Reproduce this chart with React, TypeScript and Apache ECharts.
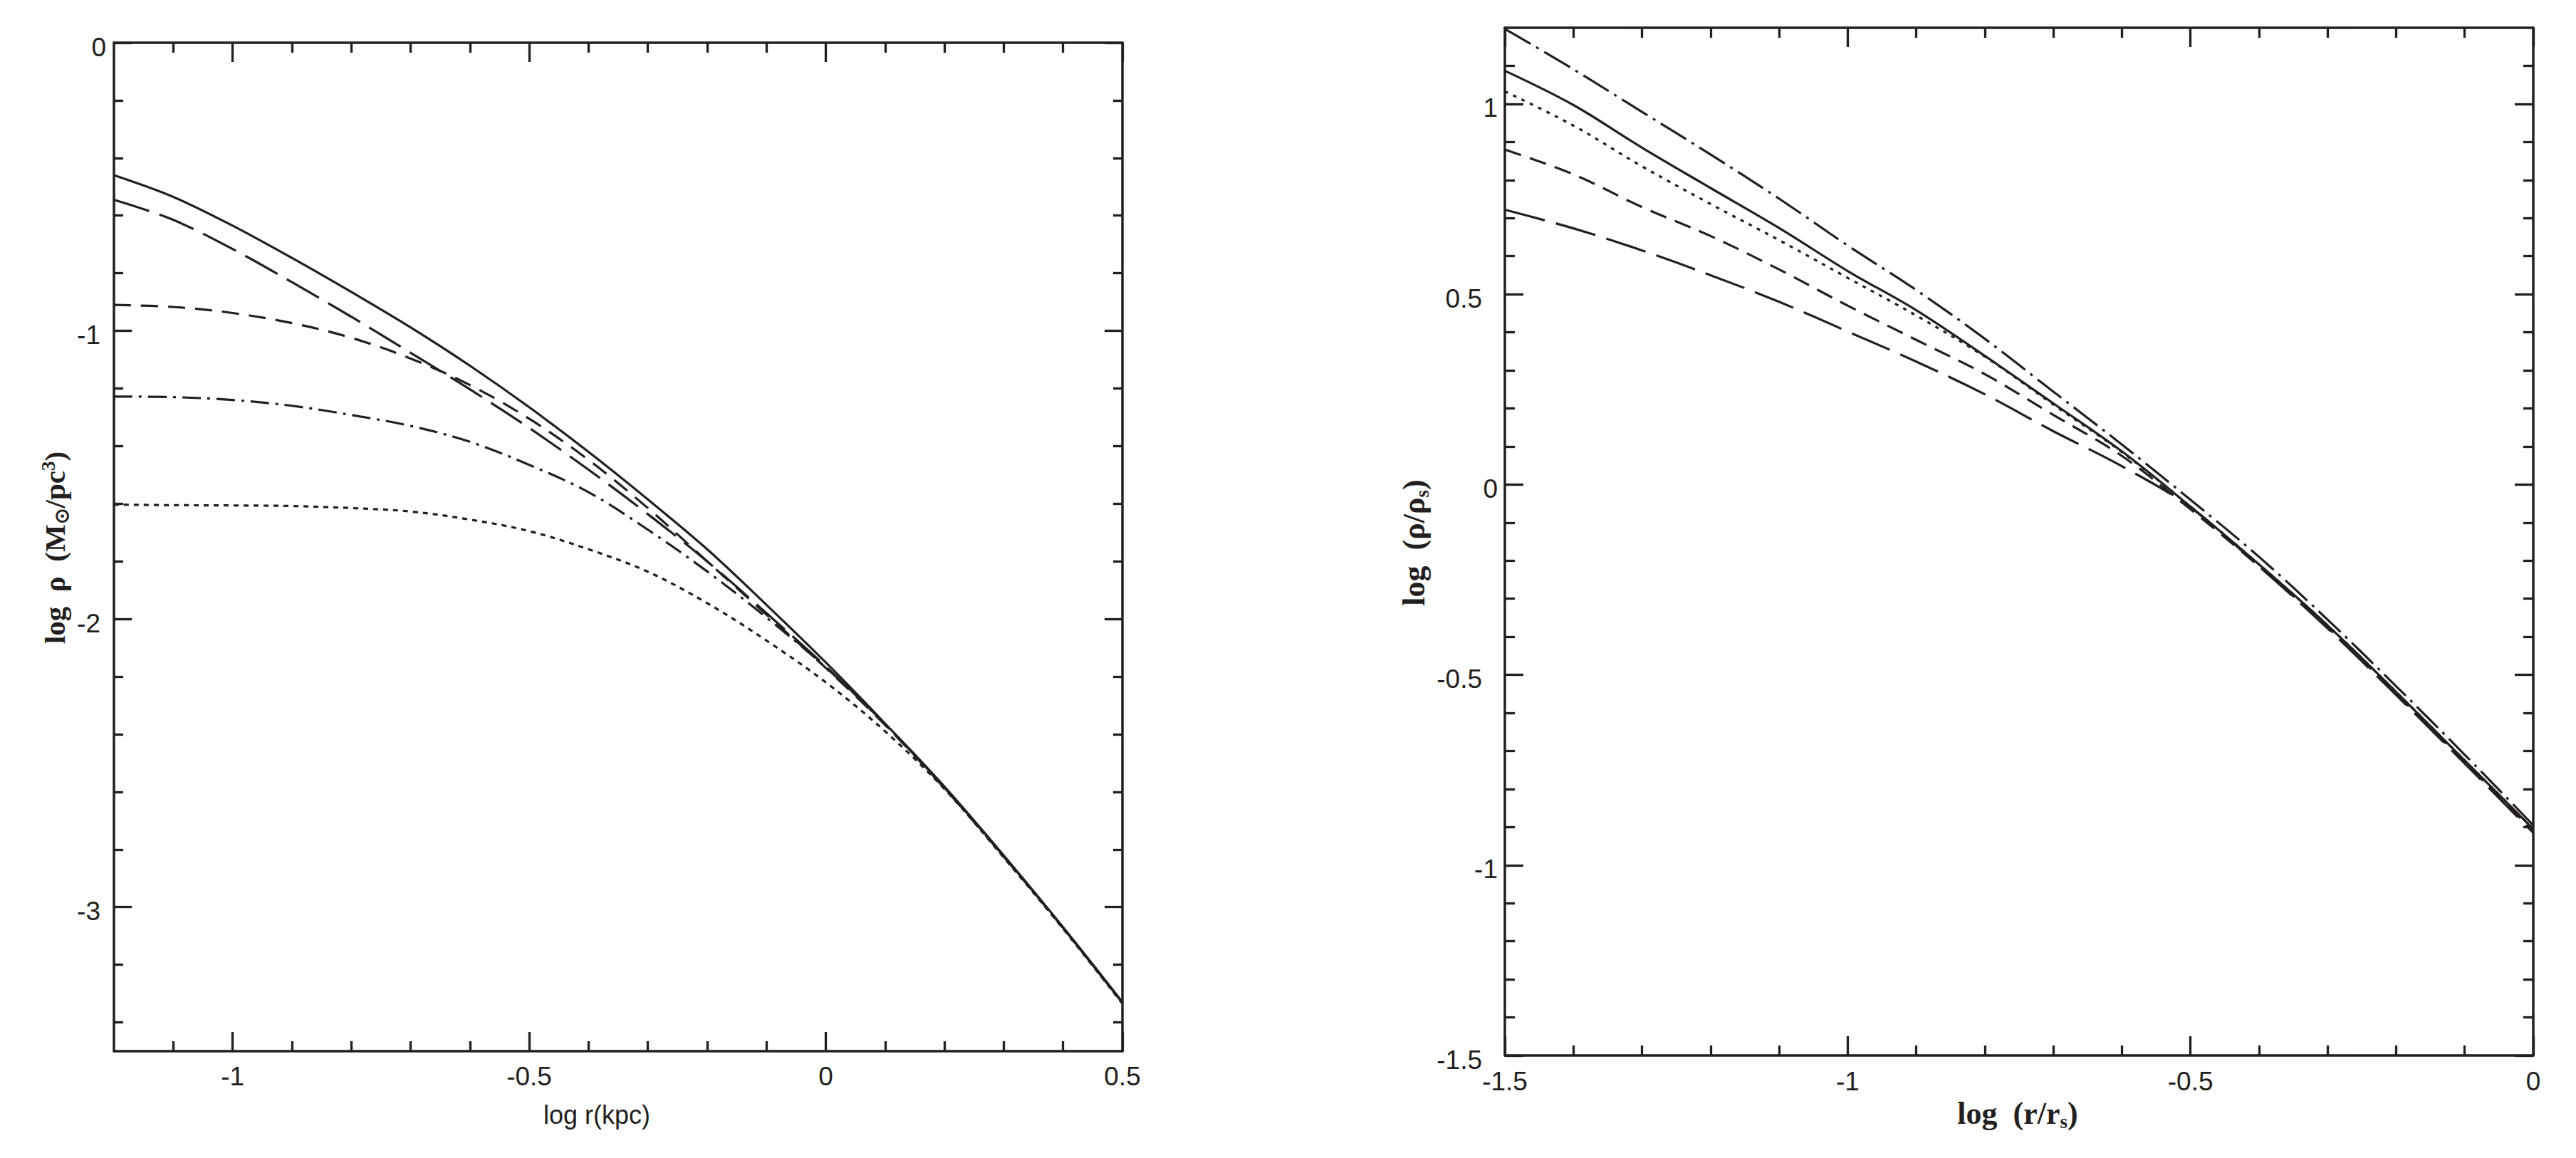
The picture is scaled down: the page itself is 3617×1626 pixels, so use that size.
import React, { useEffect, useRef } from "react";
import * as echarts from "echarts";

// ---------- data ----------
const LEFT_X = [-1.2, -1.1, -1.0, -0.9, -0.8, -0.7, -0.6, -0.5, -0.4, -0.3, -0.2, -0.1, 0, 0.1, 0.2, 0.3, 0.4, 0.5];
const LEFT_SOLID = [-0.46, -0.535, -0.635, -0.747, -0.865, -0.988, -1.121, -1.265, -1.42, -1.585, -1.758, -1.951, -2.151, -2.363, -2.582, -2.821, -3.07, -3.33];
const LEFT_LONG_DASH = [-0.545, -0.615, -0.716, -0.831, -0.951, -1.076, -1.203, -1.337, -1.482, -1.636, -1.8, -1.98, -2.165, -2.365, -2.585, -2.823, -3.072, -3.332];
const LEFT_SHORT_DASH = [-0.91, -0.917, -0.938, -0.973, -1.024, -1.096, -1.188, -1.305, -1.448, -1.615, -1.8, -1.985, -2.17, -2.368, -2.587, -2.825, -3.072, -3.332];
const LEFT_DASH_DOT = [-1.228, -1.23, -1.24, -1.26, -1.292, -1.33, -1.385, -1.465, -1.56, -1.69, -1.835, -1.995, -2.168, -2.366, -2.585, -2.823, -3.072, -3.332];
const LEFT_DOTTED = [-1.603, -1.605, -1.606, -1.608, -1.615, -1.627, -1.655, -1.695, -1.758, -1.836, -1.945, -2.075, -2.22, -2.39, -2.59, -2.828, -3.075, -3.335];

const RIGHT_X = [-1.5, -1.4, -1.3, -1.2, -1.1, -1.0, -0.9, -0.8, -0.7, -0.6, -0.5, -0.4, -0.3, -0.2, -0.1, 0];
const RIGHT_DASH_DOT = [1.197, 1.091, 0.979, 0.867, 0.751, 0.628, 0.511, 0.383, 0.244, 0.105, -0.04, -0.19, -0.355, -0.53, -0.71, -0.895];
const RIGHT_SOLID = [1.087, 0.997, 0.885, 0.779, 0.674, 0.561, 0.458, 0.338, 0.213, 0.087, -0.058, -0.21, -0.37, -0.545, -0.725, -0.905];
const RIGHT_DOTTED = [1.033, 0.943, 0.836, 0.737, 0.642, 0.543, 0.444, 0.336, 0.21, 0.085, -0.058, -0.21, -0.37, -0.545, -0.725, -0.905];
const RIGHT_SHORT_DASH = [0.88, 0.815, 0.729, 0.653, 0.565, 0.47, 0.38, 0.29, 0.183, 0.075, -0.065, -0.215, -0.375, -0.55, -0.73, -0.91];
const RIGHT_LONG_DASH = [0.722, 0.673, 0.615, 0.55, 0.48, 0.402, 0.323, 0.237, 0.14, 0.048, -0.06, -0.215, -0.378, -0.553, -0.733, -0.915];

// tick labels
const LEFT_X_LABELS = [-1, -0.5, 0, 0.5];
const LEFT_Y_LABELS = [0, -1, -2, -3];
const RIGHT_X_LABELS = [-1.5, -1, -0.5, 0];
const RIGHT_Y_LABELS = [-1.5, -1, -0.5, 0, 0.5, 1];

// axis ranges
const LEFT_X_RANGE = [-1.2, 0.5];
const LEFT_Y_RANGE = [-3.5, 0];
const RIGHT_X_RANGE = [-1.5, 0];
const RIGHT_Y_RANGE = [-1.5, 1.2];

// ---------- helpers ----------
const INK = "#231f20";
const SANS = "'Liberation Sans', Arial, Helvetica, sans-serif";
const SERIF = "'Liberation Serif', 'Times New Roman', serif";

function stepTicks(min: number, max: number, step: number, exclude: number[]): number[] {
  const out: number[] = [];
  const n0 = Math.ceil(min / step - 1e-9);
  const n1 = Math.floor(max / step + 1e-9);
  for (let i = n0; i <= n1; i++) {
    const v = Math.round(i * step * 1000) / 1000;
    if (v <= min + 1e-9 || v >= max - 1e-9) continue;
    if (exclude.some((e) => Math.abs(e - v) < 1e-6)) continue;
    out.push(v);
  }
  return out;
}
function majorTicks(min: number, max: number, step: number): number[] {
  const out: number[] = [];
  const n0 = Math.ceil(min / step - 1e-9);
  const n1 = Math.floor(max / step + 1e-9);
  for (let i = n0; i <= n1; i++) out.push(Math.round(i * step * 1000) / 1000);
  return out;
}

function axis(
  grid: number,
  position: string,
  range: number[],
  ticks: number[],
  tickLen: number,
  showLine: boolean,
  label?: any
) {
  return {
    type: "value",
    gridIndex: grid,
    position,
    min: range[0],
    max: range[1],
    axisLine: { show: showLine, onZero: false, lineStyle: { color: INK, width: 3.5 } },
    axisTick: {
      show: true,
      inside: true,
      length: tickLen,
      customValues: ticks,
      lineStyle: { color: INK, width: 3.3 },
    },
    axisLabel: label ? { show: true, ...label } : { show: false },
    splitLine: { show: false },
    minorTick: { show: false },
    minorSplitLine: { show: false },
    axisPointer: { show: false },
  };
}

const labelBase = { color: INK, fontFamily: SANS, fontSize: 37 };

const LX_MAJ = majorTicks(LEFT_X_RANGE[0], LEFT_X_RANGE[1], 0.5);
const LX_MIN = stepTicks(LEFT_X_RANGE[0], LEFT_X_RANGE[1], 0.1, LX_MAJ);
const LY_MAJ = majorTicks(LEFT_Y_RANGE[0], LEFT_Y_RANGE[1], 1);
const LY_MIN = stepTicks(LEFT_Y_RANGE[0], LEFT_Y_RANGE[1], 0.2, LY_MAJ);
const RX_MAJ = majorTicks(RIGHT_X_RANGE[0], RIGHT_X_RANGE[1], 0.5);
const RX_MIN = stepTicks(RIGHT_X_RANGE[0], RIGHT_X_RANGE[1], 0.1, RX_MAJ);
const RY_MAJ = majorTicks(RIGHT_Y_RANGE[0], RIGHT_Y_RANGE[1], 0.5);
const RY_MIN = stepTicks(RIGHT_Y_RANGE[0], RIGHT_Y_RANGE[1], 0.1, RY_MAJ);

const MAJ = 27;
const MIN = 14;

const xAxes = [
  axis(0, "bottom", LEFT_X_RANGE, LX_MAJ, MAJ, true, {
    ...labelBase,
    customValues: LEFT_X_LABELS,
    margin: 17,
    formatter: (v: number) => String(v),
  }),
  axis(0, "bottom", LEFT_X_RANGE, LX_MIN, MIN, false),
  axis(0, "top", LEFT_X_RANGE, LX_MAJ, MAJ, true),
  axis(0, "top", LEFT_X_RANGE, LX_MIN, MIN, false),
  axis(1, "bottom", RIGHT_X_RANGE, RX_MAJ, MAJ, true, {
    ...labelBase,
    customValues: RIGHT_X_LABELS,
    margin: 18,
    formatter: (v: number) => String(v),
  }),
  axis(1, "bottom", RIGHT_X_RANGE, RX_MIN, MIN, false),
  axis(1, "top", RIGHT_X_RANGE, RX_MAJ, MAJ, true),
  axis(1, "top", RIGHT_X_RANGE, RX_MIN, MIN, false),
];

const yAxes = [
  axis(0, "left", LEFT_Y_RANGE, LY_MAJ, 25, true, {
    ...labelBase,
    customValues: LEFT_Y_LABELS,
    margin: 11,
    padding: [12, 0, 0, 0],
    formatter: (v: number) => (v === 0 ? `{i|${v}}` : `{n|${v}}`),
    rich: {
      i: { ...labelBase },
      n: { ...labelBase, padding: [0, 8, 0, 0] },
    },
  }),
  axis(0, "left", LEFT_Y_RANGE, LY_MIN, 13, false),
  axis(0, "right", LEFT_Y_RANGE, LY_MAJ, 25, true),
  axis(0, "right", LEFT_Y_RANGE, LY_MIN, 13, false),
  axis(1, "left", RIGHT_Y_RANGE, RY_MAJ, 26, true, {
    ...labelBase,
    customValues: RIGHT_Y_LABELS,
    margin: 10,
    padding: [12, 0, 0, 0],
    formatter: (v: number) => (Number.isInteger(v) ? `{i|${v}}` : `{d|${v}}`),
    rich: {
      i: { ...labelBase },
      d: { ...labelBase, padding: [0, 22, 0, 0] },
    },
  }),
  axis(1, "left", RIGHT_Y_RANGE, RY_MIN, 14, false),
  axis(1, "right", RIGHT_Y_RANGE, RY_MAJ, 26, true),
  axis(1, "right", RIGHT_Y_RANGE, RY_MIN, 14, false),
];

function pairs(xs: number[], ys: number[]) {
  return xs.map((x, i) => [x, ys[i]]);
}

function line(name: string, xIdx: number, yIdx: number, xs: number[], ys: number[], type: any) {
  return {
    name,
    type: "line",
    xAxisIndex: xIdx,
    yAxisIndex: yIdx,
    data: pairs(xs, ys),
    showSymbol: false,
    symbol: "none",
    smooth: 0.35,
    clip: true,
    lineStyle: { color: INK, width: 3.2, type, cap: "butt" },
    z: 3,
  };
}

const series = [
  line("left-solid", 0, 0, LEFT_X, LEFT_SOLID, "solid"),
  line("left-long-dash", 0, 0, LEFT_X, LEFT_LONG_DASH, [52, 15]),
  line("left-short-dash", 0, 0, LEFT_X, LEFT_SHORT_DASH, [24, 14]),
  line("left-dash-dot", 0, 0, LEFT_X, LEFT_DASH_DOT, [26, 9, 4, 9]),
  line("left-dotted", 0, 0, LEFT_X, LEFT_DOTTED, [7, 7]),
  line("right-dash-dot", 4, 4, RIGHT_X, RIGHT_DASH_DOT, [42, 9, 4, 9]),
  line("right-solid", 4, 4, RIGHT_X, RIGHT_SOLID, "solid"),
  line("right-dotted", 4, 4, RIGHT_X, RIGHT_DOTTED, [5, 8]),
  line("right-short-dash", 4, 4, RIGHT_X, RIGHT_SHORT_DASH, [24, 13]),
  line("right-long-dash", 4, 4, RIGHT_X, RIGHT_LONG_DASH, [58, 16]),
];

const titleBold = { fontFamily: SERIF, fontWeight: "bold", fill: INK, color: INK };

const graphic = [
  {
    type: "text",
    x: 838,
    y: 1565,
    style: {
      text: "log r(kpc)",
      font: `36px ${SANS}`,
      fill: INK,
      align: "center",
      verticalAlign: "middle",
      textAlign: "center",
      textVerticalAlign: "middle",
    },
  },
  {
    type: "text",
    x: 77,
    y: 769,
    rotation: Math.PI / 2,
    style: {
      text: "{a|log  ρ  (M}{b|⊙}{a|/pc}{c|3}{a|)}",
      align: "center",
      verticalAlign: "middle",
      textAlign: "center",
      textVerticalAlign: "middle",
      rich: {
        a: { ...titleBold, fontSize: 41, lineHeight: 46, verticalAlign: "middle" },
        b: { ...titleBold, fontSize: 27, lineHeight: 46, verticalAlign: "bottom" },
        c: { ...titleBold, fontSize: 27, lineHeight: 46, verticalAlign: "top" },
      },
    },
  },
  {
    type: "text",
    x: 1985,
    y: 762,
    rotation: Math.PI / 2,
    style: {
      text: "{a|log  (ρ/ρ}{b|s}{a|)}",
      align: "center",
      verticalAlign: "middle",
      textAlign: "center",
      textVerticalAlign: "middle",
      rich: {
        a: { ...titleBold, fontSize: 44, lineHeight: 50, verticalAlign: "middle" },
        b: { ...titleBold, fontSize: 27, lineHeight: 50, verticalAlign: "bottom" },
      },
    },
  },
  {
    type: "text",
    x: 2833,
    y: 1563,
    style: {
      text: "{a|log  (r/r}{b|s}{a|)}",
      align: "center",
      verticalAlign: "middle",
      textAlign: "center",
      textVerticalAlign: "middle",
      rich: {
        a: { ...titleBold, fontSize: 44, lineHeight: 50, verticalAlign: "middle" },
        b: { ...titleBold, fontSize: 27, lineHeight: 50, verticalAlign: "bottom" },
      },
    },
  },
];

const option: any = {
  animation: false,
  backgroundColor: "#ffffff",
  grid: [
    { left: 160, top: 60, width: 1416, height: 1416, containLabel: false, outerBoundsMode: "none" },
    { left: 2113, top: 39, width: 1444, height: 1443, containLabel: false, outerBoundsMode: "none" },
  ],
  xAxis: xAxes,
  yAxis: yAxes,
  series,
  graphic,
};

export default function App() {
  const ref = useRef<HTMLDivElement>(null);
  useEffect(() => {
    document.body.style.margin = "0";
    const chart = echarts.init(ref.current as HTMLDivElement, undefined, {
      renderer: "svg",
      width: 3617,
      height: 1626,
    });
    chart.setOption(option);
    return () => chart.dispose();
  }, []);
  return (
    <div
      ref={ref}
      style={{ position: "fixed", left: 0, top: 0, width: 3617, height: 1626, background: "#ffffff" }}
    />
  );
}
